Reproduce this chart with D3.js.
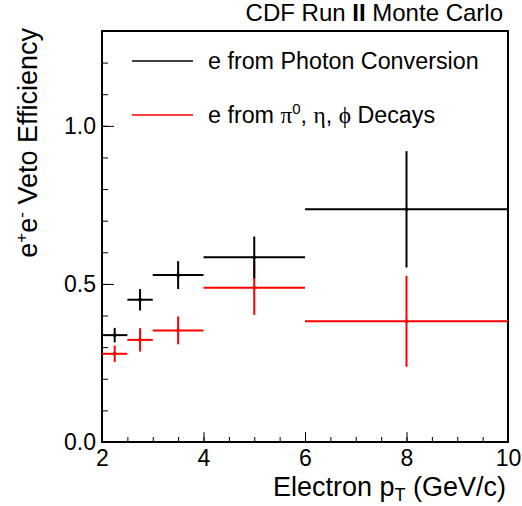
<!DOCTYPE html>
<html>
<head>
<meta charset="utf-8">
<script src="https://cdn.jsdelivr.net/npm/d3@7"></script>
<style>
  body { margin: 0; background: #fff; }
  text { font-family: "Liberation Sans", Arial, sans-serif; }
</style>
</head>
<body>
<div id="canvas"></div>
<script>
"use strict"

// bins of electron pT (GeV/c)
let binLow = [2, 2.5, 3, 4, 6];
let binHigh = [2.5, 3, 4, 6, 10];
let binCenter = [2.25, 2.75, 3.5, 5, 8];

// e from photon conversion (black)
let convEff = [0.338, 0.450, 0.528, 0.584, 0.736];
let convErr = [0.023, 0.034, 0.044, 0.066, 0.184];

// e from pi0, eta, phi decays (red)
let decayEff = [0.279, 0.323, 0.353, 0.488, 0.382];
let decayErr = [0.026, 0.037, 0.044, 0.086, 0.144];

let xMajor = [2, 4, 6, 8, 10];
let xMinor = d3.range(2, 10.01, 0.5);
let yMajor = [0, 0.5, 1.0];
let yMinor = d3.range(0, 1.31, 0.1);

let drawingWidth = 522;
let drawingHeight = 506;

let frameLeft = 102;
let frameRight = 508;
let frameTop = 31;
let frameBottom = 442;

let drawing = d3.select("#canvas")
    .append("svg")
    .attr("width", drawingWidth)
    .attr("height", drawingHeight);

let x = d3.scaleLinear().domain([2, 10]).range([frameLeft, frameRight]);
let y = d3.scaleLinear().domain([0, 1.3]).range([frameBottom, frameTop]);

// ticks point inward like ROOT
let xMinorAxis = drawing.append("g")
    .attr("transform", "translate(0," + frameBottom + ")")
    .call(d3.axisBottom(x).tickValues(xMinor).tickSize(-5).tickFormat(""));

let xMajorAxis = drawing.append("g")
    .attr("transform", "translate(0," + frameBottom + ")")
    .call(d3.axisBottom(x).tickValues(xMajor).tickSize(-10).tickPadding(8)
        .tickFormat(d3.format("d")));

let yMinorAxis = drawing.append("g")
    .attr("transform", "translate(" + frameLeft + ",0)")
    .call(d3.axisLeft(y).tickValues(yMinor).tickSize(-6).tickFormat(""));

let yMajorAxis = drawing.append("g")
    .attr("transform", "translate(" + frameLeft + ",0)")
    .call(d3.axisLeft(y).tickValues(yMajor).tickSize(-12).tickPadding(6)
        .tickFormat(d3.format(".1f")));

drawing.selectAll(".domain").remove();
drawing.selectAll(".tick line").attr("stroke", "#000").attr("stroke-width", 1);
drawing.selectAll(".tick text")
    .attr("fill", "#000")
    .style("font-size", "23px")
    .style("font-family", "'Liberation Sans', Arial, sans-serif");

// the frame
let frame = drawing.append("rect")
    .attr("x", frameLeft)
    .attr("y", frameTop)
    .attr("width", frameRight - frameLeft)
    .attr("height", frameBottom - frameTop)
    .attr("fill", "none")
    .attr("stroke", "black")
    .attr("stroke-width", 2);

// draws one series of crosses
function drawSeries(values, errors, colour) {
    let g = drawing.append("g").attr("stroke", colour).attr("stroke-width", 2);
    let idx = d3.range(values.length);
    g.selectAll(".hbar").data(idx).enter().append("line")
        .attr("x1", i => x(binLow[i]))
        .attr("x2", i => x(binHigh[i]))
        .attr("y1", i => y(values[i]))
        .attr("y2", i => y(values[i]));
    g.selectAll(".vbar").data(idx).enter().append("line")
        .attr("x1", i => x(binCenter[i]))
        .attr("x2", i => x(binCenter[i]))
        .attr("y1", i => y(values[i] + errors[i]))
        .attr("y2", i => y(values[i] - errors[i]));
    g.selectAll(".dot").data(idx).enter().append("rect")
        .attr("x", i => x(binCenter[i]) - 1.5)
        .attr("y", i => y(values[i]) - 1.5)
        .attr("width", 3)
        .attr("height", 3)
        .attr("fill", colour)
        .attr("stroke", "none");
}

drawSeries(decayEff, decayErr, "#ff0000");
drawSeries(convEff, convErr, "#000000");

// legend
let legendBlack = drawing.append("line")
    .attr("x1", 132).attr("x2", 193)
    .attr("y1", 61).attr("y2", 61)
    .attr("stroke", "black").attr("stroke-width", 1.5);

let legendBlackText = drawing.append("text")
    .attr("x", 208).attr("y", 69)
    .style("font-size", "23.3px")
    .text("e from Photon Conversion");

let legendRed = drawing.append("line")
    .attr("x1", 132).attr("x2", 193)
    .attr("y1", 115).attr("y2", 115)
    .attr("stroke", "#ff0000").attr("stroke-width", 1.5);

let legendRedText = drawing.append("text")
    .attr("x", 208).attr("y", 123)
    .style("font-size", "23.3px");
legendRedText.append("tspan").text("e from ");
legendRedText.append("tspan").style("font-family", "'Liberation Serif', serif").text("\u03c0");
legendRedText.append("tspan").attr("dy", -9).style("font-size", "15px").text("0");
legendRedText.append("tspan").attr("dy", 9).text(", ");
legendRedText.append("tspan").style("font-family", "'Liberation Serif', serif").text("\u03b7");
legendRedText.append("tspan").text(", ");
legendRedText.append("tspan").style("font-family", "'Liberation Serif', serif").text("\u03d5");
legendRedText.append("tspan").text(" Decays");

// title at the top right
let title = drawing.append("text")
    .attr("x", 503).attr("y", 21)
    .attr("text-anchor", "end")
    .style("font-size", "24px");
title.append("tspan").text("CDF Run ");
title.append("tspan").style("font-weight", "bold").text("II");
title.append("tspan").text(" Monte Carlo");

// x axis title
let xTitle = drawing.append("text")
    .attr("x", 506).attr("y", 496)
    .attr("text-anchor", "end")
    .style("font-size", "27px");
xTitle.append("tspan").text("Electron p");
xTitle.append("tspan").attr("dy", 5).style("font-size", "18px").text("T");
xTitle.append("tspan").attr("dy", -5).text(" (GeV/c)");

// y axis title
let yTitle = drawing.append("text")
    .attr("transform", "translate(37,28) rotate(-90)")
    .attr("text-anchor", "end")
    .style("font-size", "27px");
yTitle.append("tspan").text("e");
yTitle.append("tspan").attr("dy", -10).style("font-size", "17px").text("+");
yTitle.append("tspan").attr("dy", 10).text("e");
yTitle.append("tspan").attr("dy", -10).style("font-size", "17px").text("-");
yTitle.append("tspan").attr("dy", 10).text(" Veto Efficiency");
</script>
</body>
</html>
